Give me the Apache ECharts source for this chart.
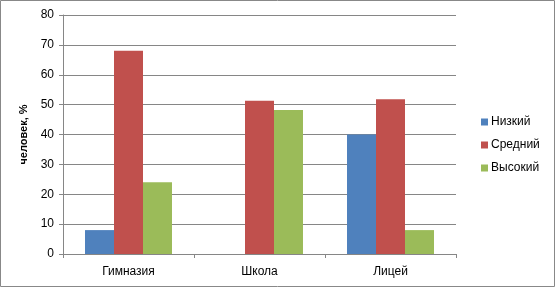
<!DOCTYPE html>
<html><head><meta charset="utf-8">
<script src="https://cdn.jsdelivr.net/npm/echarts@6/dist/echarts.min.js"></script>
<style>html,body{margin:0;padding:0;background:#fff}#c{width:556px;height:288px}</style>
</head><body><div id="c"></div>
<script>
const categories = ['Гимназия', 'Школа', 'Лицей'];
const seriesNames = ['Низкий', 'Средний', 'Высокий'];
const lowValues = [8, 0, 40];
const midValues = [68, 51.3, 51.8];
const highValues = [24, 48.2, 8];
const yTicks = [0, 10, 20, 30, 40, 50, 60, 70, 80];
const colors = ['#4F81BD', '#C0504D', '#9BBB59'];

const chart = echarts.init(document.getElementById('c'), null, {renderer: 'canvas'});
const font = 'Liberation Sans, Arial, sans-serif';
const data = [lowValues, midValues, highValues];
chart.setOption({
  animation: false,
  textStyle: {fontFamily: font},
  graphic: [{type: 'rect', shape: {x: 0.5, y: 0.5, width: 554, height: 286}, style: {fill: 'none', stroke: '#888', lineWidth: 1}}],
  grid: {left: 63, right: 100, top: 15, bottom: 34},
  legend: {
    orient: 'vertical', left: 476, top: 111, itemWidth: 7, itemHeight: 7, itemGap: 11,
    icon: 'rect', data: seriesNames,
    textStyle: {fontSize: 12, color: '#000', fontFamily: font, padding: [0,0,0,-2]}
  },
  xAxis: {
    type: 'category', data: categories,
    axisLine: {lineStyle: {color: '#868686'}},
    axisTick: {show: true, alignWithLabel: false, length: 4, lineStyle: {color: '#868686'}},
    axisLabel: {fontSize: 12, color: '#000', margin: 12, fontFamily: font}
  },
  yAxis: {
    type: 'value', min: yTicks[0], max: yTicks[yTicks.length-1], interval: 10,
    name: 'человек, %', nameLocation: 'middle', nameGap: 32,
    nameTextStyle: {fontSize: 11, fontWeight: 'bold', color: '#000', fontFamily: font},
    axisLine: {show: true, lineStyle: {color: '#868686'}},
    axisTick: {show: true, length: 4, lineStyle: {color: '#868686'}},
    splitLine: {lineStyle: {color: '#868686'}},
    axisLabel: {fontSize: 12, color: '#000', margin: 9, fontFamily: font}
  },
  series: seriesNames.map((n, i) => ({
    name: n, type: 'bar', data: data[i], barGap: '0%', barCategoryGap: '33.6%',
    itemStyle: {color: colors[i]}
  }))
});
</script></body></html>
